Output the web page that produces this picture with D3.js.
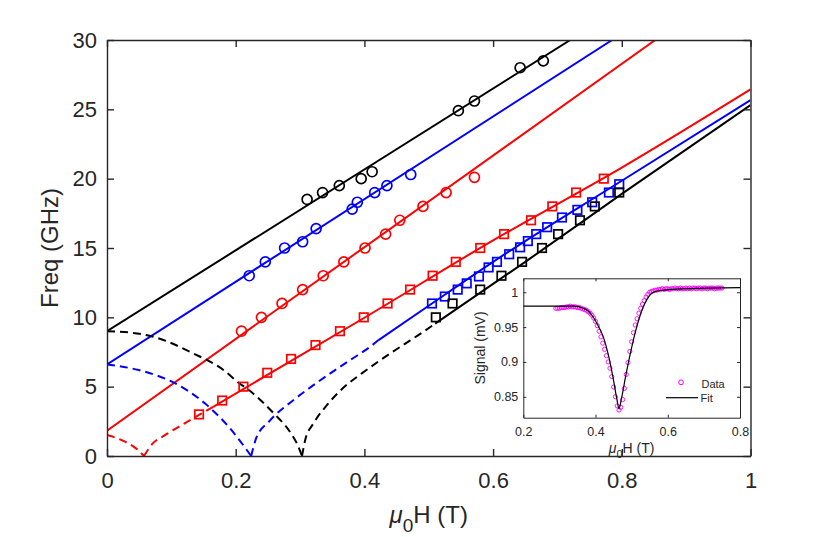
<!DOCTYPE html>
<html>
<head>
<meta charset="utf-8">
<script src="https://cdn.jsdelivr.net/npm/d3@7"></script>
<style>
  body { margin: 0; background: #fff; }
  svg { font-family: "Liberation Sans", Arial, sans-serif; }
</style>
</head>
<body>
<div id="chart"></div>
<script>
// ---- main panel: resonance frequency vs field ----
const xTicks = [0, 0.2, 0.4, 0.6, 0.8, 1];
const yTicks = [0, 5, 10, 15, 20, 25, 30];

// measured modes (mu0H in T, f in GHz)
const blackCircleH = [0.311, 0.335, 0.361, 0.395, 0.412, 0.546, 0.571, 0.642, 0.678];
const blackCircleF = [18.5, 19.0, 19.5, 20.0, 20.5, 24.9, 25.6, 28.0, 28.5];
const blueCircleH = [0.221, 0.246, 0.276, 0.304, 0.325, 0.381, 0.389, 0.416, 0.435, 0.472];
const blueCircleF = [13.0, 14.0, 15.0, 15.45, 16.4, 17.8, 18.3, 19.0, 19.5, 20.3];
const redCircleH = [0.209, 0.240, 0.272, 0.304, 0.336, 0.368, 0.401, 0.433, 0.455, 0.491, 0.527, 0.571];
const redCircleF = [9.0, 10.0, 11.0, 12.0, 13.0, 14.0, 15.0, 16.0, 17.0, 18.0, 19.0, 20.1];
const redSquareH = [0.143, 0.179, 0.212, 0.249, 0.286, 0.324, 0.362, 0.399, 0.436, 0.471, 0.506, 0.542, 0.580, 0.617, 0.659, 0.692, 0.729, 0.772];
const redSquareF = [3, 4, 5, 6, 7, 8, 9, 10, 11, 12, 13, 14, 15, 16, 17, 18, 19, 20];
const blueSquareH = [0.505, 0.525, 0.545, 0.559, 0.578, 0.593, 0.606, 0.625, 0.642, 0.654, 0.667, 0.684, 0.707, 0.731, 0.754, 0.780, 0.796];
const blueSquareF = [11.0, 11.5, 12.0, 12.45, 12.95, 13.6, 14.0, 14.55, 15.05, 15.5, 16.0, 16.5, 17.2, 17.75, 18.3, 19.0, 19.6];
const blackSquareH = [0.511, 0.537, 0.580, 0.613, 0.645, 0.676, 0.701, 0.735, 0.758, 0.796];
const blackSquareF = [10, 11, 12, 13, 14, 15, 16, 17, 18, 19];

// fitted curves, [H, f]
const blackUpperFit = [[0, 9.0], [0.72, 30]];
const blueUpperFit = [[0, 6.6], [0.785, 30]];
const redUpperFit = [[0, 1.83], [0.852, 30]];
const blackLowerFit = [[0.51, 9.55], [0.65, 14.0], [0.8, 18.9], [1, 25.3]];
const blueLowerFit = [[0.422, 8.36], [0.505, 11.0], [0.6, 14.0], [0.8, 19.85], [1, 25.67]];
const redLowerFit = [[0.165, 3.55], [0.4, 9.97], [0.6, 15.55], [0.8, 20.8], [1, 26.44]];
const blackDashFall = [[0, 9.0], [0.036, 8.9], [0.072, 8.6], [0.134, 7.4], [0.181, 6.2], [0.204, 5.3], [0.222, 4.7], [0.259, 3.08], [0.285, 1.7], [0.295, 0.91], [0.303, 0]];
const blackDashRise = [[0.303, 0], [0.308, 1.15], [0.321, 2.36], [0.342, 3.68], [0.368, 4.95], [0.396, 5.96], [0.425, 6.92], [0.456, 7.88], [0.492, 8.97], [0.51, 9.55]];
const blueDashFall = [[0, 6.6], [0.049, 6.2], [0.106, 5.24], [0.152, 3.8], [0.189, 2.11], [0.224, 0]];
const blueDashRise = [[0.224, 0], [0.232, 1.3], [0.252, 2.5], [0.29, 4.04], [0.316, 4.95], [0.347, 5.96], [0.378, 6.92], [0.409, 7.88], [0.422, 8.36]];
const redDashFall = [[0, 1.51], [0.028, 1.03], [0.045, 0.55], [0.0575, 0]];
const redDashRise = [[0.0575, 0], [0.07, 0.85], [0.09, 1.5], [0.115, 2.2], [0.143, 2.96], [0.165, 3.55]];

// ---- inset: FMR trace ----
const insetXTicks = [0.2, 0.4, 0.6, 0.8];
const insetYTicks = [0.85, 0.9, 0.95, 1];
const traceH = [0.290, 0.295, 0.300, 0.305, 0.310, 0.315, 0.320, 0.325, 0.330, 0.335, 0.340, 0.345, 0.350, 0.355, 0.360, 0.365, 0.370, 0.375, 0.380, 0.385,
  0.390, 0.395, 0.400, 0.405, 0.410, 0.415, 0.420, 0.425, 0.430, 0.435, 0.440, 0.445, 0.450, 0.455, 0.460, 0.465, 0.470, 0.475, 0.480, 0.485,
  0.490, 0.495, 0.500, 0.505, 0.510, 0.515, 0.520, 0.525, 0.530, 0.535, 0.540, 0.545, 0.550, 0.555, 0.560, 0.565, 0.570, 0.575, 0.580, 0.585,
  0.590, 0.595, 0.600, 0.605, 0.610, 0.615, 0.620, 0.625, 0.630, 0.635, 0.640, 0.645, 0.650, 0.655, 0.660, 0.665, 0.670, 0.675, 0.680, 0.685,
  0.690, 0.695, 0.700, 0.705, 0.710, 0.715, 0.720, 0.725, 0.730, 0.735, 0.740, 0.745, 0.750];
const traceS = [0.977, 0.977, 0.977, 0.978, 0.978, 0.978, 0.979, 0.979, 0.980, 0.979, 0.979, 0.979, 0.978, 0.978, 0.977, 0.976, 0.975, 0.974, 0.972, 0.970,
  0.967, 0.963, 0.958, 0.952, 0.944, 0.936, 0.927, 0.918, 0.909, 0.900, 0.891, 0.879, 0.864, 0.850, 0.837, 0.831, 0.835, 0.846, 0.862, 0.882,
  0.899, 0.915, 0.929, 0.942, 0.953, 0.962, 0.970, 0.977, 0.983, 0.988, 0.993, 0.997, 1.000, 1.001, 1.002, 1.003, 1.003, 1.004, 1.004, 1.005,
  1.004, 1.005, 1.005, 1.004, 1.005, 1.005, 1.006, 1.005, 1.005, 1.006, 1.005, 1.005, 1.006, 1.005, 1.006, 1.005, 1.006, 1.006, 1.005, 1.006,
  1.006, 1.005, 1.006, 1.006, 1.005, 1.006, 1.006, 1.006, 1.005, 1.006, 1.006, 1.006, 1.006];
const traceFit = [[0.20, 0.980], [0.34, 0.980], [0.366, 0.977], [0.38, 0.973], [0.39, 0.967], [0.401, 0.958], [0.41, 0.949], [0.4215, 0.936],
  [0.4355, 0.910], [0.449, 0.876], [0.4586, 0.848], [0.465, 0.833], [0.472, 0.848], [0.484, 0.881], [0.4955, 0.910], [0.5093, 0.941],
  [0.5212, 0.963], [0.5416, 0.989], [0.56, 1.0], [0.5875, 1.003], [0.65, 1.005], [0.8, 1.0066]];

const W = 830, H = 537;
const axisCol = '#262626';
const svg = d3.select('#chart').append('svg').attr('width', W).attr('height', H);

const m = { l: 107, r: 750.5, t: 40, b: 456 };
const x = d3.scaleLinear().domain([0, 1]).range([m.l, m.r]);
const y = d3.scaleLinear().domain([0, 30]).range([m.b, m.t]);

svg.append('clipPath').attr('id', 'plotclip').append('rect')
  .attr('x', m.l).attr('y', m.t).attr('width', m.r - m.l).attr('height', m.b - m.t);

const plot = svg.append('g').attr('clip-path', 'url(#plotclip)');
const line = d3.line().x(d => x(d[0])).y(d => y(d[1])).curve(d3.curveMonotoneX);

const curves = [
  [blackUpperFit, '#000', false], [blueUpperFit, '#0000ff', false], [redUpperFit, '#ff0000', false],
  [blackLowerFit, '#000', false], [blueLowerFit, '#0000ff', false], [redLowerFit, '#ff0000', false],
  [blackDashFall, '#000', true], [blackDashRise, '#000', true],
  [blueDashFall, '#0000ff', true], [blueDashRise, '#0000ff', true],
  [redDashFall, '#ff0000', true], [redDashRise, '#ff0000', true]
];
curves.forEach(([pts, col, dashed]) => {
  plot.append('path').attr('d', line(pts)).attr('fill', 'none')
    .attr('stroke', col).attr('stroke-width', 2)
    .attr('stroke-dasharray', dashed ? '8,5' : null);
});

function circles(hs, fs, col) {
  plot.append('g').selectAll('circle').data(hs).join('circle')
    .attr('cx', d => x(d)).attr('cy', (d, i) => y(fs[i])).attr('r', 5)
    .attr('fill', 'none').attr('stroke', col).attr('stroke-width', 1.7);
}
function squares(hs, fs, col) {
  const s = 8.5;
  plot.append('g').selectAll('rect').data(hs).join('rect')
    .attr('x', d => x(d) - s / 2).attr('y', (d, i) => y(fs[i]) - s / 2)
    .attr('width', s).attr('height', s)
    .attr('fill', 'none').attr('stroke', col).attr('stroke-width', 1.7);
}
circles(blackCircleH, blackCircleF, '#000');
circles(blueCircleH, blueCircleF, '#0000ff');
circles(redCircleH, redCircleF, '#ff0000');
squares(redSquareH, redSquareF, '#ff0000');
squares(blueSquareH, blueSquareF, '#0000ff');
squares(blackSquareH, blackSquareF, '#000');

// axes, box style with inward ticks
function styleAxis(g, fs) {
  g.selectAll('.domain').attr('stroke', axisCol).attr('stroke-width', 1.4);
  g.selectAll('.tick line').attr('stroke', axisCol).attr('stroke-width', 1.4);
  g.selectAll('.tick text').attr('fill', axisCol).style('font-size', fs + 'px');
  g.attr('font-family', null);
}
svg.append('g').attr('transform', `translate(0,${m.b})`)
  .call(d3.axisBottom(x).tickValues(xTicks).tickFormat(d3.format('~g')).tickSizeInner(-7).tickSizeOuter(0).tickPadding(16))
  .call(g => styleAxis(g, 22));
svg.append('g').attr('transform', `translate(0,${m.t})`)
  .call(d3.axisTop(x).tickValues(xTicks).tickFormat('').tickSizeInner(-7).tickSizeOuter(0))
  .call(g => styleAxis(g, 22));
svg.append('g').attr('transform', `translate(${m.l},0)`)
  .call(d3.axisLeft(y).tickValues(yTicks).tickSizeInner(-7).tickSizeOuter(0).tickPadding(10))
  .call(g => styleAxis(g, 22));
svg.append('g').attr('transform', `translate(${m.r},0)`)
  .call(d3.axisRight(y).tickValues(yTicks).tickFormat('').tickSizeInner(-7).tickSizeOuter(0))
  .call(g => styleAxis(g, 22));

svg.append('text').attr('transform', `translate(58,${(m.t + m.b) / 2}) rotate(-90)`)
  .attr('text-anchor', 'middle').attr('fill', axisCol).style('font-size', '24px')
  .text('Freq (GHz)');

const xl = svg.append('text').attr('x', (m.l + m.r) / 2).attr('y', 523)
  .attr('text-anchor', 'middle').attr('fill', axisCol).style('font-size', '24px');
xl.append('tspan').style('font-style', 'italic').text('μ');
xl.append('tspan').attr('dy', 9).style('font-size', '19px').text('0');
xl.append('tspan').attr('dy', -9).text('H (T)');

// ---- inset ----
const im = { l: 523.3, r: 740, t: 278.3, b: 417.7 };
const ix = d3.scaleLinear().domain([0.2, 0.8]).range([im.l, im.r]);
const iy = d3.scaleLinear().domain([0.82, 1.02]).range([im.b, im.t]);

svg.append('rect').attr('x', im.l).attr('y', im.t).attr('width', im.r - im.l).attr('height', im.b - im.t)
  .attr('fill', '#fff');

const ithin = d3.line().x(d => ix(d[0])).y(d => iy(d[1])).curve(d3.curveMonotoneX);
svg.append('g').selectAll('circle').data(traceH).join('circle')
  .attr('cx', d => ix(d)).attr('cy', (d, i) => iy(traceS[i])).attr('r', 2.1)
  .attr('fill', 'none').attr('stroke', '#ff00ff').attr('stroke-width', 0.9);
svg.append('path').attr('d', ithin(traceFit)).attr('fill', 'none')
  .attr('stroke', '#000').attr('stroke-width', 1.2);

function styleInset(g) {
  g.selectAll('.domain').attr('stroke', axisCol).attr('stroke-width', 1);
  g.selectAll('.tick line').attr('stroke', axisCol).attr('stroke-width', 1);
  g.selectAll('.tick text').attr('fill', axisCol).style('font-size', '12.5px');
  g.attr('font-family', null);
}
svg.append('g').attr('transform', `translate(0,${im.b})`)
  .call(d3.axisBottom(ix).tickValues(insetXTicks).tickFormat(d3.format('~g')).tickSizeInner(-3).tickSizeOuter(0).tickPadding(9))
  .call(styleInset);
svg.append('g').attr('transform', `translate(0,${im.t})`)
  .call(d3.axisTop(ix).tickValues(insetXTicks).tickFormat('').tickSizeInner(-3).tickSizeOuter(0))
  .call(styleInset);
svg.append('g').attr('transform', `translate(${im.l},0)`)
  .call(d3.axisLeft(iy).tickValues(insetYTicks).tickFormat(d3.format('~g')).tickSizeInner(-3).tickSizeOuter(0).tickPadding(5))
  .call(styleInset);
svg.append('g').attr('transform', `translate(${im.r},0)`)
  .call(d3.axisRight(iy).tickValues(insetYTicks).tickFormat('').tickSizeInner(-3).tickSizeOuter(0))
  .call(styleInset);

svg.append('text').attr('transform', `translate(485,${(im.t + im.b) / 2}) rotate(-90)`)
  .attr('text-anchor', 'middle').attr('fill', axisCol).style('font-size', '14px')
  .text('Signal (mV)');
const ixl = svg.append('text').attr('x', (im.l + im.r) / 2).attr('y', 453)
  .attr('text-anchor', 'middle').attr('fill', axisCol).style('font-size', '14px');
ixl.append('tspan').style('font-style', 'italic').text('μ');
ixl.append('tspan').attr('dy', 5).style('font-size', '11px').text('0');
ixl.append('tspan').attr('dy', -5).text('H (T)');

// legend
const lg = svg.append('g').style('font-size', '11px').attr('fill', axisCol);
lg.append('circle').attr('cx', 681).attr('cy', 382.3).attr('r', 2.4)
  .attr('fill', 'none').attr('stroke', '#ff00ff').attr('stroke-width', 1);
lg.append('text').attr('x', 701.5).attr('y', 388).text('Data');
lg.append('line').attr('x1', 666).attr('x2', 698).attr('y1', 397.7).attr('y2', 397.7)
  .attr('stroke', '#000').attr('stroke-width', 1.2);
lg.append('text').attr('x', 700.5).attr('y', 401.6).text('Fit');
</script>
</body>
</html>
